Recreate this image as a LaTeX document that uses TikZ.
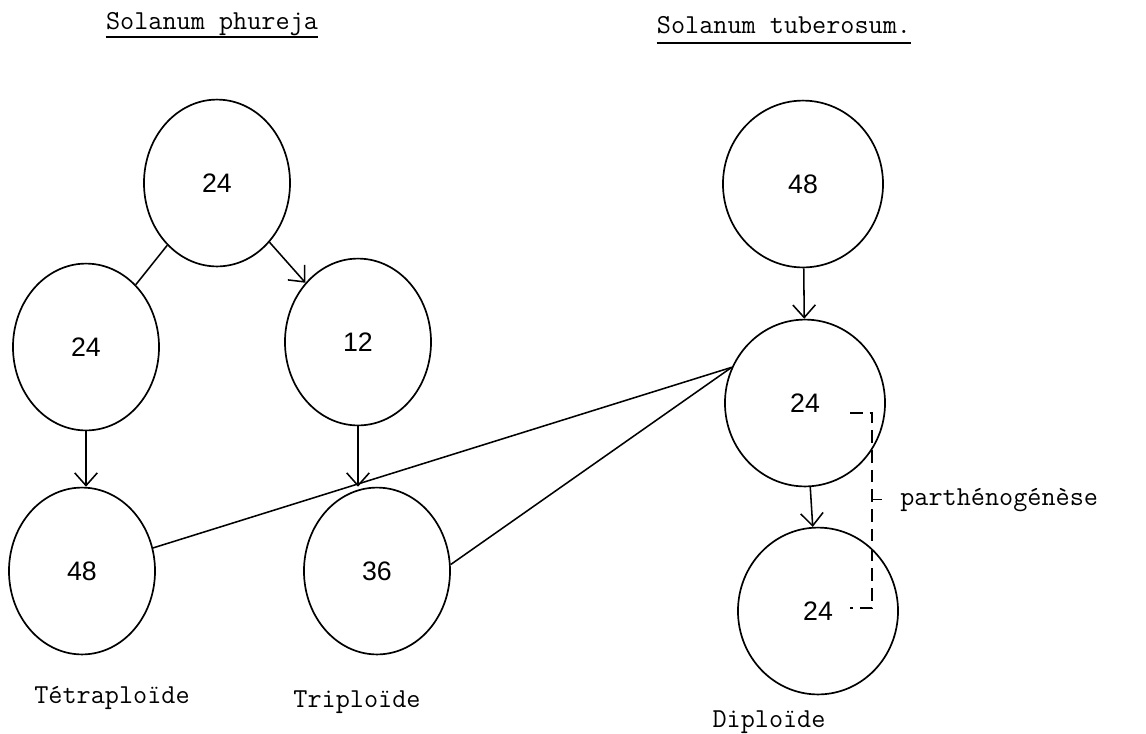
\documentclass[tikz,border=0pt]{standalone}
\usepackage{fontspec}
\setsansfont{Liberation Sans}
\usetikzlibrary{arrows.meta,shapes.geometric}

\begin{document}
\begin{tikzpicture}[x=0.025cm,y=-0.025cm,
cell/.style={ellipse,draw,line width=1.2pt,minimum width=3.65cm,minimum height=4.17cm,inner sep=0pt,font=\sffamily\fontsize{19}{22}\selectfont},
wide/.style={minimum width=4cm},
tw/.style={font=\ttfamily\fontsize{19.5}{22}\selectfont,inner sep=0pt},
arr/.style={line width=1.1pt,-{Straight Barb[length=9pt,width=16pt,line width=1.1pt]}},
link/.style={line width=1.1pt},
uline/.style={line width=1.5pt}]
\useasboundingbox (0,0) rectangle (1146,733);
% Solanum phureja
\node[tw,anchor=base] (tph) at (212,29) {Solanum phureja};
\node[cell] (p24) at (217,183) {24};
\node[cell] (p24l) at (86,347) {24};
\node[cell] (p12) at (358,342) {12};
\node[cell] (p48) at (82,571) {48};
\node[cell] (p36) at (377,571) {36};
\node[tw,anchor=base] (ltetra) at (112,703) {Tétraploïde};
\node[tw,anchor=base] (ltri) at (357,707) {Triploïde};
% Solanum tuberosum
\node[tw,anchor=base] (ttu) at (784,33) {Solanum tuberosum.};
\node[cell,wide] (t48) at (803,184) {48};
\node[cell,wide] (t24) at (805,403) {24};
\node[cell,wide] (t24d) at (818,611) {24};
\node[tw,anchor=base] (ldi) at (769,727) {Diploïde};
\node[tw,anchor=base west] (lpar) at (900,505) {parthénogénèse};
\draw[uline] ([yshift=-5.5pt]tph.base west) -- ([yshift=-5.5pt]tph.base east);
\draw[uline] ([yshift=-7pt]ttu.base west) -- ([yshift=-7pt]ttu.base east);
% descent
\draw[link] (p24) -- (p24l);
\draw[arr] (p24) -- (p12);
\draw[arr] (p24l.south) -- (p24l.south |- p48.north);
\draw[arr] (p12.south) -- (p12.south |- p36.north);
\draw[arr] (t48) -- (t24);
\draw[arr] (t24) -- (t24d);
% crosses
\draw[link] (t24.154) -- (p48.18);
\draw[link] (t24.154) -- (p36.5);
% parthenogenese
\coordinate (pa) at (850,413);
\coordinate (pb) at (850,608);
\draw[link,dash pattern=on 9pt off 5pt] (pa) -- ++(22,0) coordinate (pc) |- (pb);
\draw[link] (pc |- lpar.west) -- ++(10,0);
\end{tikzpicture}
\end{document}
